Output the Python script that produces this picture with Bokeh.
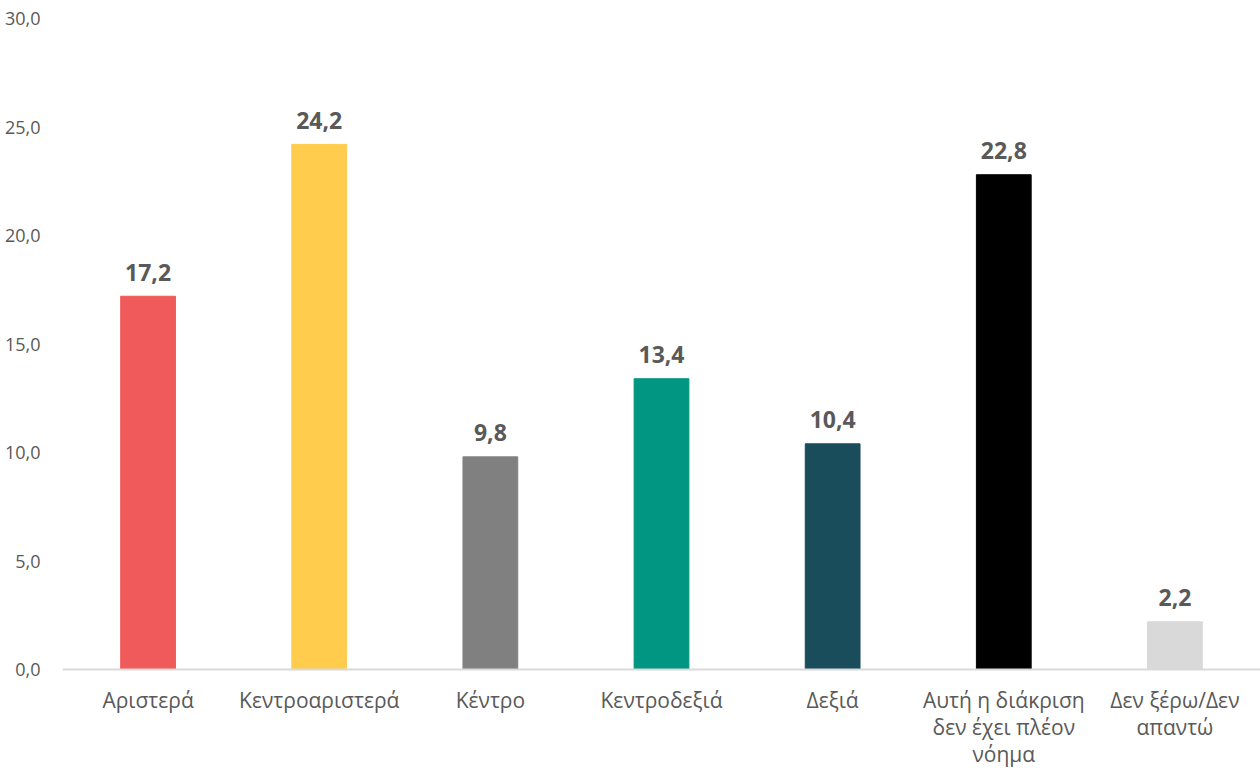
from bokeh.plotting import figure
from bokeh.models import ColumnDataSource, FixedTicker, Span
from bokeh.core.properties import value
from bokeh.embed import file_html
from bokeh.resources import INLINE

categories = ["Αριστερά", "Κεντροαριστερά", "Κέντρο", "Κεντροδεξιά", "Δεξιά",
              "Αυτή η διάκριση δεν έχει πλέον νόημα", "Δεν ξέρω/Δεν απαντώ"]
tick_labels = ["Αριστερά", "Κεντροαριστερά", "Κέντρο", "Κεντροδεξιά", "Δεξιά",
               "Αυτή η διάκριση\nδεν έχει πλέον\nνόημα", "Δεν ξέρω/Δεν\nαπαντώ"]
values = [17.2, 24.2, 9.8, 13.4, 10.4, 22.8, 2.2]
colors = ["#F05A5A", "#FFCC4D", "#808080", "#009682", "#1A4D5C", "#000000", "#D9D9D9"]
y_ticks = [0, 5, 10, 15, 20, 25, 30]

src = ColumnDataSource(dict(
    cat=categories, val=values, color=colors, tick=tick_labels,
    zero=[0] * len(values),
    lab=[f"{v:.1f}".replace(".", ",") for v in values],
))

# frame extends below zero so the category labels (drawn as text) stay inside it
p = figure(x_range=categories, y_range=(-4.7, 30), width=1260, height=771,
           output_backend="svg", toolbar_location=None,
           min_border_left=62, min_border_right=0, min_border_top=18, min_border_bottom=0)
p.outline_line_color = None
p.background_fill_color = "white"
p.border_fill_color = "white"
p.xaxis.visible = False

p.add_layout(Span(location=0, dimension="width", line_color="#D9D9D9", line_width=2))

p.vbar(x="cat", top="val", width=0.32, color="color", source=src)
p.text(x="cat", y="val", text="lab", source=src, text_align="center",
       text_baseline="middle", y_offset=-24, text_font=value("Open Sans"),
       text_font_style="bold", text_font_size="23px", text_color="#595959")
p.text(x="cat", y="zero", text="tick", source=src, text_align="center",
       text_baseline="top", y_offset=16, text_font=value("Open Sans"),
       text_font_size="21px", text_color="#595959", text_line_height=0.98)

p.xgrid.grid_line_color = None
p.ygrid.grid_line_color = None

p.yaxis.ticker = FixedTicker(ticks=y_ticks)
p.yaxis.major_label_overrides = {t: f"{t:.1f}".replace(".", ",") for t in y_ticks}
p.yaxis.axis_line_color = None
p.yaxis.major_tick_line_color = None
p.yaxis.minor_tick_line_color = None
p.yaxis.major_label_text_font = "Open Sans"
p.yaxis.major_label_text_font_size = "18px"
p.yaxis.major_label_text_color = "#595959"
p.yaxis.major_label_standoff = 16

open("out.html", "w").write(file_html(p, INLINE))
